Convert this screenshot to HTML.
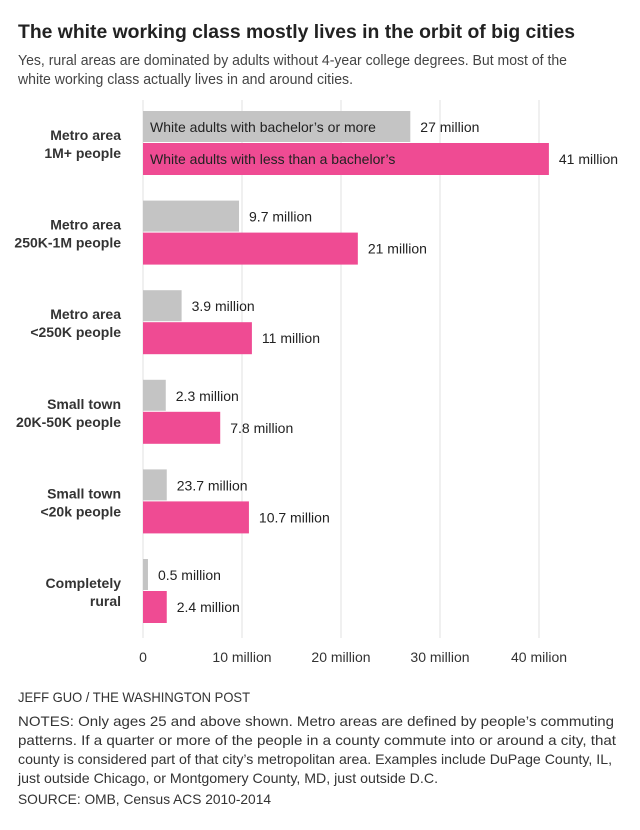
<!DOCTYPE html>
<html><head><meta charset="utf-8"><style>
body{margin:0;background:#fff;}
svg{display:block;font-family:"Liberation Sans",sans-serif;}
</style></head><body>
<svg id="chart" width="640" height="830" viewBox="0 0 640 830">
<text x="18" y="38" font-size="19" font-weight="bold" fill="#222" textLength="557" lengthAdjust="spacingAndGlyphs">The white working class mostly lives in the orbit of big cities</text>
<g font-size="14.5" fill="#444">
<text x="18" y="65" textLength="549" lengthAdjust="spacingAndGlyphs">Yes, rural areas are dominated by adults without 4-year college degrees. But most of the</text>
<text x="18" y="84" textLength="335" lengthAdjust="spacingAndGlyphs">white working class actually lives in and around cities.</text>
</g>
<g id="grid"></g>
<g id="bars"></g>
<g id="cats"></g>
<g id="xaxis"></g>
<text x="18" y="702" font-size="14" fill="#333" textLength="232" lengthAdjust="spacingAndGlyphs">JEFF GUO / THE WASHINGTON POST</text>
<g font-size="14" fill="#333">
<text x="18" y="726" textLength="596" lengthAdjust="spacingAndGlyphs">NOTES: Only ages 25 and above shown. Metro areas are defined by people’s commuting</text>
<text x="18" y="745" textLength="598" lengthAdjust="spacingAndGlyphs">patterns. If a quarter or more of the people in a county commute into or around a city, that</text>
<text x="18" y="764" textLength="594" lengthAdjust="spacingAndGlyphs">county is considered part of that city’s metropolitan area. Examples include DuPage County, IL,</text>
<text x="18" y="783" textLength="420" lengthAdjust="spacingAndGlyphs">just outside Chicago, or Montgomery County, MD, just outside D.C.</text>
</g>
<text x="18" y="804" font-size="14" fill="#333" textLength="253" lengthAdjust="spacingAndGlyphs">SOURCE: OMB, Census ACS 2010-2014</text>
</svg>
<script>
const categories = [["Metro area","1M+ people"],["Metro area","250K-1M people"],["Metro area","<250K people"],["Small town","20K-50K people"],["Small town","<20k people"],["Completely","rural"]];
const bachelorValues = [27, 9.7, 3.9, 2.3, 2.4, 0.5];
const lessValues = [41, 21.7, 11, 7.8, 10.7, 2.4];
const bachelorLabels = ["27 million","9.7 million","3.9 million","2.3 million","23.7 million","0.5 million"];
const lessLabels = ["41 million","21 million","11 million","7.8 million","10.7 million","2.4 million"];
const tickValues = [0, 10, 20, 30, 40];
const tickLabels = ["0","10 million","20 million","30 million","40 milion"];

const NS = "http://www.w3.org/2000/svg";
const x = v => 143 + v * 9.9;
const yc = i => 143 + i * 89.6;
function mk(tag, attrs, parent, txt){
  const e = document.createElementNS(NS, tag);
  for (const k in attrs) e.setAttribute(k, attrs[k]);
  if (txt !== undefined) e.textContent = txt;
  parent.appendChild(e); return e;
}
const grid = document.getElementById('grid');
const bars = document.getElementById('bars');
const cats = document.getElementById('cats');
const xaxis = document.getElementById('xaxis');
tickValues.forEach((t, i) => {
  const l = mk('line', {x1:x(t), x2:x(t), y1:100, y2:638, stroke:'#e0e0e0', 'stroke-width':1}, grid);
  
  
  const tx = mk('text', {x:x(t), y:662, 'text-anchor':'middle', 'font-size':14, fill:'#333'}, xaxis, tickLabels[i]);
  
  
});
categories.forEach((c, i) => {
  const cy = yc(i);
  const g = mk('rect', {x:x(0), y:cy-32, width:x(bachelorValues[i])-x(0), height:31, fill:'#c4c4c4'}, bars);
  
  
  const p = mk('rect', {x:x(0), y:cy, width:x(lessValues[i])-x(0), height:32, fill:'#ef4b93'}, bars);
  
  
  const gl = mk('text', {x:x(bachelorValues[i])+10, y:cy-11, 'font-size':14, fill:'#222'}, bars, bachelorLabels[i]);
  
  
  const pl = mk('text', {x:x(lessValues[i])+10, y:cy+21, 'font-size':14, fill:'#222'}, bars, lessLabels[i]);
  
  
  const c1 = mk('text', {x:121, y:cy-3, 'text-anchor':'end', 'font-size':14, 'font-weight':'bold', fill:'#333'}, cats, c[0]);
  
  
  const c2 = mk('text', {x:121, y:cy+15, 'text-anchor':'end', 'font-size':14, 'font-weight':'bold', fill:'#333'}, cats, c[1]);
  
  
});
const l1 = mk('text', {x:150, y:yc(0)-11, 'font-size':14, fill:'#222'}, bars, "White adults with bachelor’s or more");


const l2 = mk('text', {x:150, y:yc(0)+21, 'font-size':14, fill:'#222'}, bars, "White adults with less than a bachelor’s");


</script>
</body></html>
